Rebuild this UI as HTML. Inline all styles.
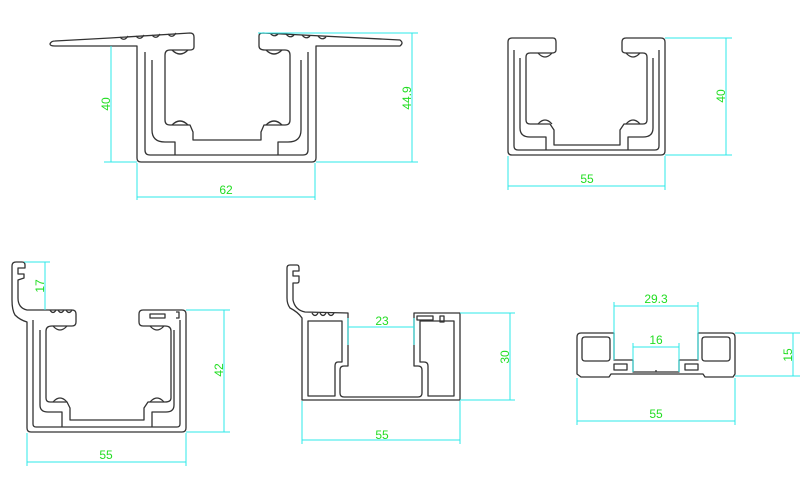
<!DOCTYPE html>
<html><head><meta charset="utf-8"><style>
html,body{margin:0;padding:0;background:#fff;width:800px;height:500px;overflow:hidden}
svg{display:block}
.p{fill:none;stroke:#333;stroke-width:1.3;stroke-linejoin:round}
.d{stroke:#2ee8e8;stroke-width:1;fill:none}
text{font-family:"Liberation Sans",sans-serif;font-size:12px;fill:#22dd22}
</style></head><body>
<svg width="800" height="500" viewBox="0 0 800 500">
<!-- Profile 1 -->
<path class="p" d="M50,44 Q51,41 55,41 L110,38 L190,33 Q194,33 194,37 L194,47 Q194,50 190,50 L170,50 Q165,50 165,55 L165,120 Q165,125 170,125 L190,125 L193,132 L193,140 L261,140 L261,132 L264,125 L285,125 Q290,125 290,120 L290,55 Q290,50 285,50 L265,50 Q259,50 259,46 L259,36 Q259,33 263,33 L400,40 Q404,43 400,46 L316,46 L316,158 Q316,162 312,162 L141,162 Q137,162 137,158 L137,46 L55,46 Q50,46 50,44 Z"/>
<path class="p" d="M145,52 L145,150 Q145,155 150,155 L303,155 Q308,155 308,150 L308,52"/>
<path class="p" d="M152,60 L152,130 Q152,142 165,142 L175,142 L175,155 M301,60 L301,130 Q301,142 288,142 L278,142 L278,155"/>
<path class="p" d="M172,50 Q180,58 188,50 M266,50 Q274,58 282,50 M172,125 Q180,117 188,125 M266,125 Q274,117 282,125"/>
<path class="p" d="M120,37 Q124,42 128,36 M136,36 Q140,41 144,35 M152,35 Q156,40 160,34 M168,34 Q172,39 176,33 M270,33 Q274,38 278,34 M286,34 Q290,39 294,35 M302,35 Q306,40 310,36 M318,36 Q322,41 326,37"/>
<path class="d" d="M137,163 L137,200 M315,163 L315,200 M137,197 L315,197 M104,162 L137,162 M111,46 L111,162 M316,162 L418,162 M258,33 L418,33 M412,33 L412,162"/>
<text x="226" y="194" text-anchor="middle">62</text>
<text transform="translate(110,104) rotate(-90)" text-anchor="middle">40</text>
<text transform="translate(411,98) rotate(-90)" text-anchor="middle">44.9</text>

<!-- Profile 2 -->
<path class="p" d="M508,42 Q508,38 512,38 L553,38 Q556,38 556,42 L556,50 Q556,53 552,53 L530,53 Q526,53 526,57 L526,120 Q526,124 530,124 L550,124 L554,130 L554,145 L620,145 L620,130 L624,124 L643,124 Q647,124 647,120 L647,57 Q647,53 643,53 L626,53 Q622,53 622,50 L622,42 Q622,38 626,38 L661,38 Q665,38 665,42 L665,151 Q665,155 661,155 L512,155 Q508,155 508,151 Z"/>
<path class="p" d="M514,50 L514,146 Q514,150 518,150 L655,150 Q659,150 659,146 L659,50"/>
<path class="p" d="M520,58 L520,128 Q520,137 530,137 L546,137 L546,150 M653,58 L653,128 Q653,137 643,137 L628,137 L628,150"/>
<path class="p" d="M538,53 Q545,61 552,53 M626,53 Q633,61 640,53 M538,124 Q545,116 552,124 M626,124 Q633,116 640,124"/>
<path class="d" d="M508,156 L508,190 M665,156 L665,190 M508,186 L665,186 M665,38 L732,38 M665,155 L732,155 M726,38 L726,155"/>
<text x="587" y="183" text-anchor="middle">55</text>
<text transform="translate(725,96) rotate(-90)" text-anchor="middle">40</text>

<!-- Profile 3 -->
<path class="p" d="M27,428 L27,322 Q20,320 15,315 Q12,310 12,300 L12,266 Q12,262 16,262 L22,262 Q25,262 25,265 L25,268 L18,268 L18,274 L24,274 L24,278 L18,280 L18,298 Q18,308 27,310 L72,310 Q76,310 76,314 L76,322 Q76,326 72,326 L52,326 Q46,326 46,331 L46,398 Q46,402 50,402 L67,402 L70,408 L70,420 L144,420 L144,408 L148,402 L165,402 Q171,402 171,398 L171,331 Q171,326 165,326 L143,326 Q139,326 139,322 L139,314 Q139,310 143,310 L182,310 Q186,310 186,314 L186,428 Q186,432 182,432 L31,432 Q27,432 27,428 Z"/>
<path class="p" d="M33,320 L33,424 Q33,427 36,427 L177,427 Q180,427 180,424 L180,320"/>
<path class="p" d="M40,330 L40,405 Q40,412 48,412 L62,412 L62,427 M174,330 L174,405 Q174,412 166,412 L152,412 L152,427"/>
<path class="p" d="M53,326 Q60,334 67,326 M150,326 Q157,334 164,326 M53,402 Q60,394 67,402 M150,402 Q157,394 164,402"/>
<path class="p" d="M50,310 Q53,315 56,310 M58,310 Q61,315 64,310 M66,310 Q69,315 72,310 M150,314 L165,314 L165,318 L150,318 Z M176,312 L179,312 L179,318 L176,318"/>
<path class="d" d="M24,262 L50,262 M45,262 L45,310 M186,310 L230,310 M186,432 L230,432 M224,310 L224,432 M27,433 L27,466 M186,433 L186,466 M27,462 L186,462"/>
<text transform="translate(44,286) rotate(-90)" text-anchor="middle">17</text>
<text transform="translate(223,370) rotate(-90)" text-anchor="middle">42</text>
<text x="106" y="459" text-anchor="middle">55</text>

<!-- Profile 4 -->
<path class="p" d="M287,268 Q287,265 290,265 L297,265 Q299,265 299,268 L299,271 L293,271 L293,276 L299,276 L299,281 Q299,283 297,283 L293,283 L293,300 Q295,310 305,312 L348,313 L348,366 L344,366 Q340,366 340,370 L340,393 Q340,397 344,397 L418,397 Q422,397 422,393 L422,370 Q422,366 418,366 L414,366 L414,313 L460,313 L460,400 L302,400 L302,318 Q298,312 290,308 Q287,304 287,298 Z"/>
<path class="p" d="M308,321 L342,321 L342,362 L338,362 Q335,362 335,366 L335,396 L308,396 Z"/>
<path class="p" d="M420,321 L454,321 L454,396 L428,396 L428,366 Q428,362 424,362 L420,362 Z"/>
<path class="p" d="M417,316 L433,316 L433,320 L417,320 Z M440,316 L444,316 L444,322 L440,322 Z"/>
<path class="p" d="M312,313 Q315,318 318,313 M320,313 Q323,318 326,313 M328,313 Q331,318 334,313"/>
<path class="d" d="M348,327 L414,327 M348,318 L348,345 M414,318 L414,345 M460,313 L515,313 M460,400 L515,400 M510,313 L510,400 M302,401 L302,444 M460,401 L460,444 M302,440 L460,440"/>
<text x="382" y="325" text-anchor="middle">23</text>
<text transform="translate(509,357) rotate(-90)" text-anchor="middle">30</text>
<text x="382" y="439" text-anchor="middle">55</text>

<!-- Profile 5 -->
<path class="p" d="M577,337 Q577,333 581,333 L614,333 L614,360 L633,360 L633,372 L679,372 L679,360 L698,360 L698,333 L731,333 Q735,333 735,337 L735,374 L733,377 L705,377 L703,374 L611,374 L609,377 L581,377 L577,374 Z"/>
<path class="p" d="M582,340 Q582,337 585,337 L607,337 Q610,337 610,340 L610,358 Q610,361 607,361 L585,361 Q582,361 582,358 Z M702,340 Q702,337 705,337 L727,337 Q730,337 730,340 L730,358 Q730,361 727,361 L705,361 Q702,361 702,358 Z"/>
<path class="p" d="M614,364 L627,364 L627,370 L614,370 Z M685,364 L698,364 L698,370 L685,370 Z M656,370 L656,372"/>
<path class="d" d="M614,306 L698,306 M614,302 L614,360 M698,302 L698,360 M633,347 L679,347 M633,343 L633,372 M679,343 L679,372 M735,333 L800,333 M735,376 L800,376 M793,333 L793,376 M577,378 L577,425 M735,378 L735,425 M577,421 L735,421"/>
<text x="656" y="303" text-anchor="middle">29.3</text>
<text x="656" y="344" text-anchor="middle">16</text>
<text transform="translate(792,355) rotate(-90)" text-anchor="middle">15</text>
<text x="656" y="418" text-anchor="middle">55</text>
</svg>
</body></html>
